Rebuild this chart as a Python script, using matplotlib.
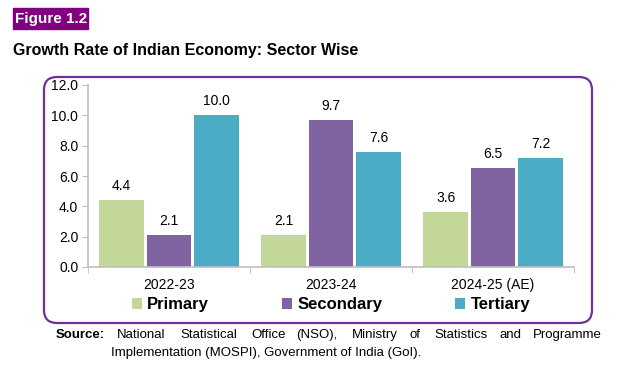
import matplotlib
matplotlib.use("Agg")
import matplotlib.pyplot as plt
from matplotlib.patches import FancyBboxPatch, Rectangle
import numpy as np

plt.rcParams['font.family'] = ['Liberation Sans', 'DejaVu Sans']

# data
years = ["2022-23", "2023-24", "2024-25 (AE)"]
sectors = ["Primary", "Secondary", "Tertiary"]
primary = [4.4, 2.1, 3.6]
secondary = [2.1, 9.7, 6.5]
tertiary = [10.0, 7.6, 7.2]
y_ticks = [0.0, 2.0, 4.0, 6.0, 8.0, 10.0, 12.0]

colors = ["#C4D79B", "#8064A2", "#4BACC6"]
purple = "#7030A0"

W, H = 632, 366
fig = plt.figure(figsize=(W / 100, H / 100), dpi=100)

def fx(px):
    return px / W

def fy(py):
    return 1 - py / H

# rounded frame around the chart (inches, so the corners stay round)
frame = FancyBboxPatch((0.44, (H - 323) / 100), 5.48, 2.46,
                       boxstyle="round,pad=0,rounding_size=0.13",
                       transform=fig.dpi_scale_trans, fill=False,
                       edgecolor=purple, linewidth=1.6)
fig.patches.append(frame)

# figure label
fig.patches.append(Rectangle((fx(13), fy(29)), fx(88) - fx(13), fy(8) - fy(29),
                             transform=fig.transFigure, color="#800080"))
fig.text(fx(15), fy(18.5), "Figure 1.2", color="white", fontsize=11,
         fontweight="bold", va="center", ha="left")

fig.text(fx(13), fy(50), "Growth Rate of Indian Economy: Sector Wise",
         fontsize=11.5, fontweight="bold", va="center", ha="left")

ax = fig.add_axes([fx(88), fy(267), fx(574) - fx(88), fy(85) - fy(267)])

x = np.arange(len(years))
bw = 0.275
gap = 0.018
series = [primary, secondary, tertiary]
for i, (vals, name, c) in enumerate(zip(series, sectors, colors)):
    pos = x + (i - 1) * (bw + gap)
    bars = ax.bar(pos, vals, width=bw, color=c, label=name, zorder=2)
    for b, v in zip(bars, vals):
        ax.annotate(f"{v:.1f}", (b.get_x() + b.get_width() / 2, v),
                    xytext=(0, 5), textcoords="offset points",
                    ha="center", va="bottom", fontsize=10)

ax.set_xlim(-0.5, 2.5)
ax.set_ylim(0, 12)
ax.set_yticks(y_ticks)
ax.set_yticklabels([f"{t:.1f}" for t in y_ticks], fontsize=10)
ax.set_xticks(x)
ax.set_xticklabels(years, fontsize=10)
ax.set_xticks([-0.5, 0.5, 1.5, 2.5], minor=True)
ax.tick_params(axis="x", which="major", length=0, pad=8)
ax.tick_params(axis="x", which="minor", length=4, color="#BFBFBF")
ax.tick_params(axis="y", length=4, color="#BFBFBF", pad=3)
for s in ["top", "right"]:
    ax.spines[s].set_visible(False)
for s in ["left", "bottom"]:
    ax.spines[s].set_color("#BFBFBF")
    ax.spines[s].set_linewidth(1.2)
ax.patch.set_alpha(0)

fig.legend(loc="center", bbox_to_anchor=(fx(331), fy(305)), ncol=3,
           frameon=False, handlelength=0.6, handleheight=0.6,
           handletextpad=0.3, columnspacing=4.4,
           prop={"weight": "bold", "size": 12})

# source note, laid out like the justified text in the reference
fig.text(fx(56), fy(335), "Source:", fontsize=9.5, fontweight="bold",
         va="center", ha="left")
words = ["National", "Statistical", "Office", "(NSO),", "Ministry", "of",
         "Statistics", "and", "Programme"]
word_x = [117, 180, 251, 296, 352, 409, 434, 499, 533]
for w, px in zip(words, word_x):
    fig.text(fx(px), fy(335), w, fontsize=9.5, va="center", ha="left")
fig.text(fx(111), fy(353), "Implementation (MOSPI), Government of India (GoI).",
         fontsize=9.5, va="center", ha="left")

fig.savefig("out.png", dpi=100)
